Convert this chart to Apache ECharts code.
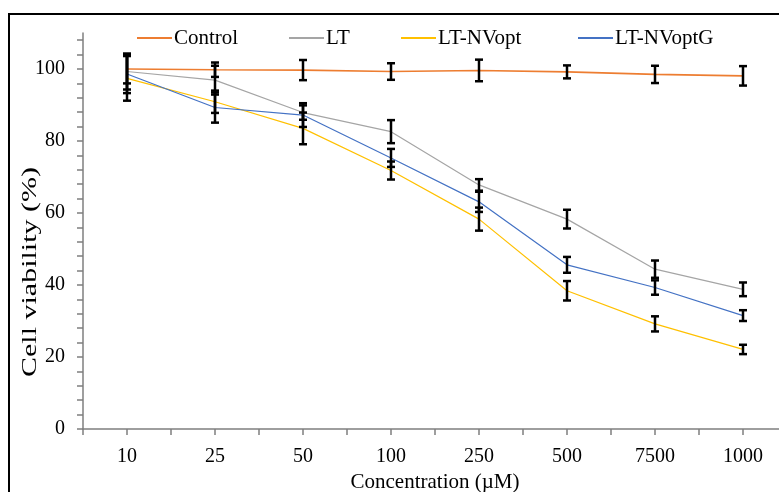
<!DOCTYPE html>
<html>
<head>
<meta charset="utf-8">
<style>html,body{margin:0;padding:0;background:#fff;}#c{width:779px;height:492px;}</style>
<script src="https://cdn.jsdelivr.net/npm/echarts@6/dist/echarts.min.js"></script>
</head>
<body>
<div id="c"></div>
<script>
const categories = ['10', '25', '50', '100', '250', '500', '7500', '1000'];
const control    = [100.0, 99.8, 99.7, 99.3, 99.6, 99.2, 98.5, 98.1];
const controlErr = [4.0, 2.0, 2.8, 2.3, 3.0, 1.8, 2.4, 2.7];
const lt         = [99.3, 96.9, 87.9, 82.6, 67.8, 58.3, 44.4, 38.8];
const ltErr      = [5.0, 4.0, 2.0, 3.2, 1.6, 2.6, 2.4, 1.9];
const nvopt      = [97.4, 90.9, 83.5, 71.8, 58.3, 38.4, 29.2, 22.1];
const nvoptErr   = [6.2, 3.1, 4.4, 2.5, 3.2, 2.7, 2.1, 1.3];
const nvoptG     = [98.6, 89.3, 87.2, 75.3, 63.1, 45.6, 39.3, 31.5];
const nvoptGErr  = [5.3, 4.2, 3.3, 2.5, 2.8, 2.2, 2.0, 1.5];
const yLabelValues = [0, 20, 40, 60, 80, 100];
const yTickValues  = [0,4,8,12,16,20,24,28,32,36,40,44,48,52,56,60,64,68,72,76,80,84,88,92,96,100,104,108];

const names  = ['Control', 'LT', 'LT-NVopt', 'LT-NVoptG'];
const colors = ['#ED7D31', '#A5A5A5', '#FFC000', '#4472C4'];
const values = [control, lt, nvopt, nvoptG];
const errs   = [controlErr, ltErr, nvoptErr, nvoptGErr];
const FONT = 'Liberation Serif';
const legendLefts = [137, 289, 401, 578];

const lineSeries = names.map((n, k) => ({
  name: n, type: 'line', data: values[k], xAxisIndex: 0, yAxisIndex: 0,
  showSymbol: false, symbol: 'none', smooth: false, z: 2,
  lineStyle: { color: colors[k], width: k === 0 ? 1.6 : 1.2 },
  itemStyle: { color: colors[k] }
}));

const errData = [];
values.forEach((arr, k) => arr.forEach((v, i) => errData.push([i, v - errs[k][i], v + errs[k][i]])));

const errSeries = {
  type: 'custom', xAxisIndex: 0, yAxisIndex: 0, z: 5,
  data: errData,
  encode: { x: 0, y: [1, 2] },
  renderItem: function (params, api) {
    const i = api.value(0);
    const lo = api.coord([i, api.value(1)]);
    const hi = api.coord([i, api.value(2)]);
    const w = 4;
    const st = { stroke: '#000', lineWidth: 2.5 };
    return {
      type: 'group',
      children: [
        { type: 'line', shape: { x1: lo[0], y1: lo[1], x2: hi[0], y2: hi[1] }, style: st },
        { type: 'line', shape: { x1: lo[0] - w, y1: lo[1], x2: lo[0] + w, y2: lo[1] }, style: st },
        { type: 'line', shape: { x1: hi[0] - w, y1: hi[1], x2: hi[0] + w, y2: hi[1] }, style: st }
      ]
    };
  }
};

const legends = names.map((n, k) => ({
  data: [n], left: legendLefts[k], top: 26, padding: 0, itemWidth: 35, itemHeight: 2, icon: 'rect',
  textStyle: { fontFamily: FONT, fontSize: 21, color: '#000', lineHeight: 24, padding: [0, 0, 0, -3] }
}));

const chart = echarts.init(document.getElementById('c'), null, { renderer: 'canvas' });
chart.setOption({
  animation: false,
  backgroundColor: '#fff',
  textStyle: { fontFamily: FONT },
  grid: { left: 83, top: 33, width: 704, height: 396, containLabel: false, outerBoundsMode: 'none' },
  legend: legends,
  xAxis: [{
    type: 'category', data: categories, boundaryGap: true,
    axisLine: { lineStyle: { color: '#7f7f7f', width: 1.5 } },
    axisTick: { show: false },
    axisLabel: { color: '#000', fontSize: 20, fontFamily: FONT, margin: 18, interval: 0 },
    name: 'Concentration (\u00b5M)', nameLocation: 'middle', nameGap: 35,
    nameTextStyle: { color: '#000', fontSize: 21, fontFamily: FONT }
  }, {
    type: 'category', position: 'bottom', gridIndex: 0,
    data: categories.flatMap(c => [c + '_a', c + '_b']), boundaryGap: true,
    axisLine: { show: false },
    axisTick: { show: true, interval: 0, length: 6, lineStyle: { color: '#7f7f7f', width: 1.5 } },
    axisLabel: { show: false }
  }],
  yAxis: {
    type: 'value', min: 0, max: 110, interval: 4,
    splitLine: { show: false },
    axisLine: { show: true, lineStyle: { color: '#7f7f7f', width: 1.5 } },
    axisTick: { show: true, length: 6, customValues: yTickValues, lineStyle: { color: '#7f7f7f', width: 1.5 } },
    axisLabel: { color: '#000', fontSize: 20, fontFamily: FONT, margin: 18, customValues: yLabelValues }
  },
  graphic: [
    { type: 'rect', shape: { x: 9, y: 14, width: 800, height: 500 }, style: { fill: 'none', stroke: '#000', lineWidth: 2 }, silent: true, z: 0 },
    { type: 'text', x: 31, y: 272, rotation: Math.PI / 2, scaleX: 1.5, scaleY: 1,
      style: { text: 'Cell viability (%)', font: '20px "Liberation Serif"', fill: '#000', textAlign: 'center', textVerticalAlign: 'middle' }, z: 10 }
  ],
  series: lineSeries.concat([errSeries])
});
</script>
</body>
</html>
